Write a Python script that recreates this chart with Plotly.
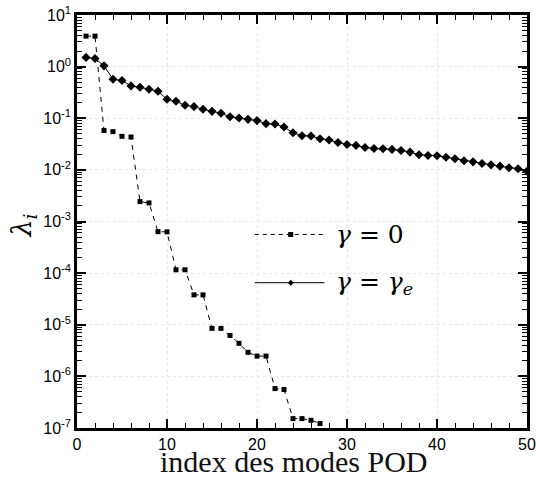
import plotly.graph_objects as go

# POD eigenvalues, gamma = 0 (dashed, squares)
modes_g0 = list(range(1, 28))
lambda_g0 = [3.9, 3.9, 0.058, 0.055, 0.0446, 0.0433, 0.00243, 0.00229, 6.35e-4, 6.3e-4,
             1.16e-4, 1.16e-4, 3.79e-5, 3.79e-5, 8.5e-6, 8.5e-6, 6.2e-6, 4.36e-6, 2.92e-6,
             2.47e-6, 2.47e-6, 5.8e-7, 5.56e-7, 1.52e-7, 1.52e-7, 1.41e-7, 1.22e-7]

# POD eigenvalues, gamma = gamma_e (solid, diamonds)
modes_ge = list(range(1, 51))
lambda_ge = [1.51, 1.44, 1.035, 0.57, 0.538, 0.423, 0.399, 0.365, 0.333, 0.233,
             0.213, 0.178, 0.168, 0.149, 0.136, 0.125, 0.107, 0.101, 0.0953, 0.090,
             0.0786, 0.0772, 0.0676, 0.0525, 0.0459, 0.0452, 0.0402, 0.0378, 0.034, 0.0311,
             0.0298, 0.0272, 0.026, 0.0256, 0.0249, 0.0238, 0.0221, 0.0196, 0.019, 0.0188,
             0.0176, 0.0164, 0.015, 0.0143, 0.0133, 0.0125, 0.0118, 0.011, 0.0105, 0.0094]

# Axis ticks
x_ticks = [0, 10, 20, 30, 40, 50]
y_exponents = [-7, -6, -5, -4, -3, -2, -1, 0, 1]
y_tickvals = [10.0 ** e for e in y_exponents]
y_ticktext = ["10<sup>%d</sup>" % e for e in y_exponents]
y_minor = [k * 10.0 ** e for e in y_exponents[:-1] for k in range(2, 10)]

legend_labels = ["<i>γ</i> = 0", "<i>γ</i> = <i>γ</i><sub><i>e</i></sub>"]

fig = go.Figure()
fig.add_trace(go.Scatter(
    x=modes_g0, y=lambda_g0, mode="lines+markers",
    line=dict(color="black", width=1, dash="5px,5px"),
    marker=dict(symbol="square", size=5, color="black"),
    showlegend=False,
))
fig.add_trace(go.Scatter(
    x=modes_ge, y=lambda_ge, mode="lines+markers",
    line=dict(color="black", width=1),
    marker=dict(symbol="diamond", size=7, color="black"),
    showlegend=False,
))

axis_common = dict(
    showline=True, linecolor="black", linewidth=2.5, mirror="allticks",
    ticks="inside", tickcolor="black", tickwidth=1.5, ticklen=9,
    showgrid=True, gridcolor="#e8e8e8", griddash="dot", gridwidth=1,
    zeroline=False,
    tickfont=dict(family="Liberation Sans", size=16, color="black"),
)

fig.update_xaxes(
    range=[0, 50], tickvals=x_ticks,
    minor=dict(dtick=2, ticks="inside", ticklen=5, tickwidth=1, tickcolor="black", showgrid=False),
    **axis_common,
)
fig.update_yaxes(
    type="log", range=[-7, 1], tickvals=y_tickvals, ticktext=y_ticktext,
    minor=dict(tickvals=y_minor, ticks="inside", ticklen=5, tickwidth=1, tickcolor="black", showgrid=False),
    **axis_common,
)

# Hand-drawn legend inside the plot area
leg_x0, leg_x1, leg_xm, leg_tx = 0.395, 0.550, 0.475, 0.572
leg_y = [0.4685, 0.3518]
shapes = [
    dict(type="line", xref="paper", yref="paper", x0=leg_x0, x1=leg_x1, y0=leg_y[0], y1=leg_y[0],
         line=dict(color="black", width=1, dash="4px,4px")),
    dict(type="line", xref="paper", yref="paper", x0=leg_x0, x1=leg_x1, y0=leg_y[1], y1=leg_y[1],
         line=dict(color="black", width=1)),
]
sq = 2.5 / 450.6
sqy = 2.5 / 413.0
shapes.append(dict(type="rect", xref="paper", yref="paper",
                   x0=leg_xm - sq, x1=leg_xm + sq, y0=leg_y[0] - sqy, y1=leg_y[0] + sqy,
                   fillcolor="black", line=dict(width=0)))
dx = 3.0 / 450.6
dy = 3.0 / 413.0
shapes.append(dict(type="path", xref="paper", yref="paper",
                   path="M %f %f L %f %f L %f %f L %f %f Z" % (
                       leg_xm - dx, leg_y[1], leg_xm, leg_y[1] + dy,
                       leg_xm + dx, leg_y[1], leg_xm, leg_y[1] - dy),
                   fillcolor="black", line=dict(width=0)))

serif = "Liberation Serif"
greek_serif = "DejaVu Serif"
annotations = []
for lbl, yy in zip(legend_labels, leg_y):
    annotations.append(dict(text=lbl, xref="paper", yref="paper", x=leg_tx, y=yy,
                            xanchor="left", yanchor="middle", showarrow=False,
                            font=dict(family=greek_serif, size=25, color="black")))
annotations.append(dict(text="index des modes POD", xref="paper", yref="paper",
                        x=0.48, y=-0.1235, xanchor="center", yanchor="bottom", showarrow=False,
                        borderpad=0,
                        font=dict(family=serif, size=30, color="#111")))
annotations.append(dict(text="<i>λ</i><sub><i>i</i></sub>", xref="paper", yref="paper",
                        x=-0.118, y=0.49, xanchor="center", yanchor="middle", showarrow=False,
                        textangle=-90,
                        font=dict(family=greek_serif, size=27, color="black")))

fig.update_layout(
    width=536, height=480,
    margin=dict(l=77, r=8.5, t=15, b=52, autoexpand=False),
    paper_bgcolor="white", plot_bgcolor="white",
    shapes=shapes, annotations=annotations,
    showlegend=False,
)

fig.write_html("out.html")
